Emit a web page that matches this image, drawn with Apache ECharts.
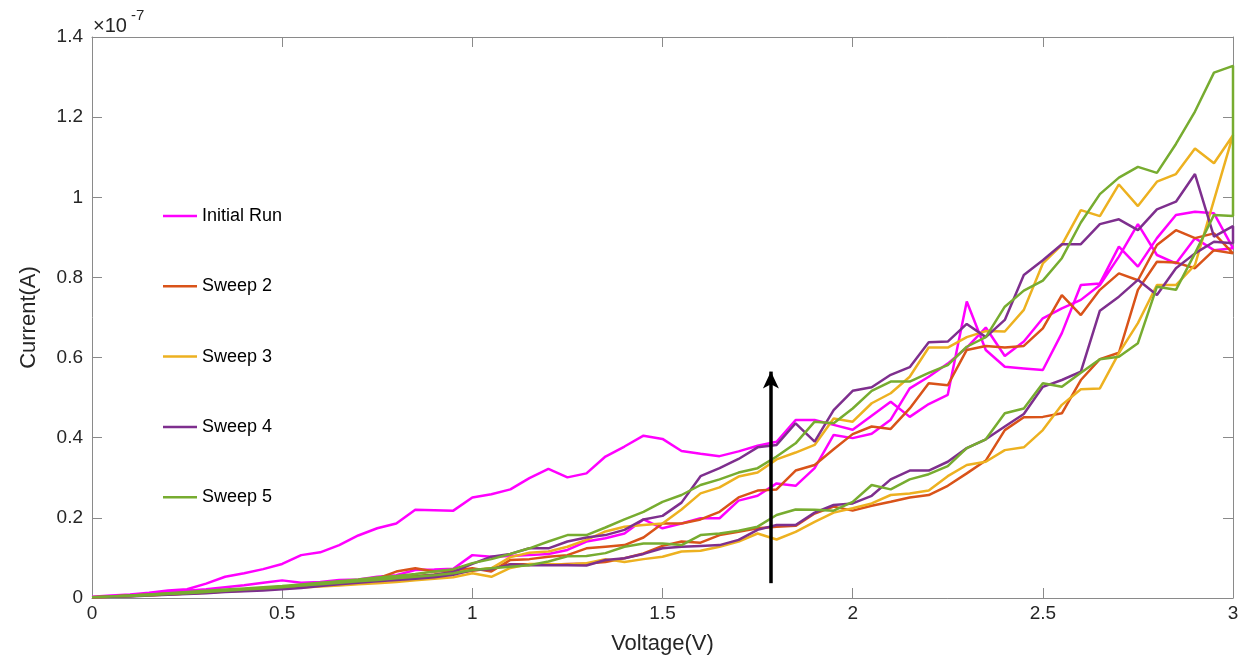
<!DOCTYPE html>
<html><head><meta charset="utf-8">
<script src="https://cdn.jsdelivr.net/npm/echarts@6/dist/echarts.min.js"></script>
<style>html,body{margin:0;padding:0;background:#fff}#c{width:1244px;height:661px}</style>
</head><body><div id="c"></div>
<script>
// Voltage steps (V)
const volts = [0,0.05,0.1,0.15,0.2,0.25,0.3,0.35,0.4,0.45,0.5,0.55,0.6,0.65,0.7,0.75,0.8,0.85,0.9,0.95,1,1.05,1.1,1.15,1.2,1.25,1.3,1.35,1.4,1.45,1.5,1.55,1.6,1.65,1.7,1.75,1.8,1.85,1.9,1.95,2,2.05,2.1,2.15,2.2,2.25,2.3,2.35,2.4,2.45,2.5,2.55,2.6,2.65,2.7,2.75,2.8,2.85,2.9,2.95,3];

// Currents in units of 1e-7 A; "High" = upper branch, "Low" = lower branch (both listed 0 -> 3 V)
const initialHigh = [0.003,0.006,0.009,0.013,0.019,0.022,0.036,0.053,0.062,0.072,
  0.085,0.107,0.114,0.132,0.156,0.174,0.186,0.220,0.219,0.218,
  0.251,0.259,0.271,0.299,0.322,0.301,0.311,0.353,0.378,0.405,
  0.397,0.367,0.360,0.354,0.366,0.380,0.390,0.444,0.444,0.432,
  0.420,0.455,0.490,0.452,0.484,0.507,0.740,0.619,0.577,0.573,
  0.569,0.661,0.781,0.785,0.877,0.827,0.898,0.956,0.964,0.960,
  0.873];
const initialLow = [0.003,0.005,0.008,0.011,0.014,0.018,0.022,0.027,0.032,0.038,
  0.044,0.038,0.040,0.045,0.046,0.053,0.057,0.070,0.071,0.073,
  0.107,0.103,0.105,0.107,0.110,0.120,0.141,0.149,0.161,0.196,
  0.174,0.186,0.199,0.199,0.243,0.255,0.286,0.280,0.324,0.407,
  0.399,0.410,0.445,0.523,0.552,0.585,0.625,0.675,0.604,0.640,
  0.698,0.723,0.744,0.781,0.852,0.933,0.856,0.835,0.898,0.868,
  0.876];
const sweep2High = [0.002,0.004,0.006,0.008,0.011,0.013,0.016,0.019,0.022,0.025,
  0.027,0.031,0.034,0.038,0.043,0.048,0.066,0.074,0.066,0.068,
  0.074,0.066,0.095,0.097,0.103,0.107,0.124,0.128,0.132,0.151,
  0.186,0.186,0.196,0.215,0.251,0.268,0.271,0.318,0.332,0.371,
  0.409,0.428,0.422,0.473,0.536,0.531,0.619,0.629,0.625,0.629,
  0.673,0.756,0.706,0.769,0.810,0.793,0.881,0.918,0.898,0.910,
  0.860];
const sweep2Low = [0.002,0.003,0.005,0.007,0.009,0.011,0.014,0.017,0.020,0.023,
  0.026,0.028,0.032,0.036,0.040,0.044,0.050,0.055,0.058,0.062,
  0.068,0.074,0.084,0.084,0.083,0.085,0.086,0.090,0.099,0.111,
  0.130,0.141,0.138,0.157,0.165,0.174,0.178,0.180,0.211,0.228,
  0.218,0.230,0.240,0.251,0.257,0.280,0.311,0.343,0.419,0.451,
  0.452,0.461,0.544,0.596,0.612,0.769,0.839,0.837,0.823,0.868,
  0.860];
const sweep3High = [0.002,0.004,0.006,0.008,0.010,0.012,0.015,0.018,0.021,0.024,
  0.027,0.030,0.034,0.037,0.041,0.045,0.049,0.052,0.058,0.063,
  0.070,0.074,0.102,0.113,0.116,0.128,0.145,0.166,0.178,0.182,
  0.186,0.221,0.261,0.276,0.303,0.313,0.346,0.363,0.382,0.448,
  0.440,0.486,0.511,0.552,0.625,0.625,0.651,0.666,0.665,0.719,
  0.835,0.881,0.968,0.953,1.032,0.978,1.039,1.058,1.122,1.085,
  1.155];
const sweep3Low = [0.002,0.003,0.005,0.007,0.009,0.011,0.013,0.016,0.018,0.021,
  0.024,0.026,0.029,0.031,0.034,0.037,0.040,0.044,0.048,0.052,
  0.062,0.053,0.075,0.085,0.085,0.083,0.087,0.097,0.090,0.097,
  0.103,0.116,0.118,0.128,0.141,0.161,0.146,0.165,0.190,0.213,
  0.224,0.236,0.257,0.261,0.268,0.304,0.332,0.340,0.369,0.376,
  0.419,0.482,0.521,0.523,0.611,0.686,0.781,0.781,0.831,0.993,
  1.155];
const sweep4High = [0.002,0.004,0.006,0.008,0.010,0.013,0.016,0.019,0.022,0.024,
  0.028,0.032,0.036,0.040,0.043,0.046,0.049,0.053,0.058,0.065,
  0.085,0.103,0.110,0.124,0.124,0.141,0.151,0.157,0.170,0.196,
  0.205,0.238,0.304,0.324,0.347,0.376,0.382,0.436,0.390,0.469,
  0.517,0.526,0.557,0.576,0.638,0.640,0.684,0.651,0.694,0.806,
  0.843,0.883,0.883,0.933,0.945,0.918,0.970,0.989,1.058,0.902,
  0.928];
const sweep4Low = [0.002,0.003,0.004,0.006,0.008,0.010,0.012,0.015,0.017,0.019,
  0.022,0.025,0.030,0.034,0.038,0.042,0.045,0.048,0.052,0.058,
  0.070,0.072,0.084,0.082,0.082,0.082,0.081,0.095,0.099,0.110,
  0.124,0.128,0.130,0.132,0.145,0.170,0.182,0.182,0.213,0.232,
  0.236,0.255,0.296,0.318,0.318,0.340,0.374,0.396,0.428,0.459,
  0.527,0.544,0.565,0.717,0.752,0.794,0.756,0.823,0.860,0.889,
  0.885];
const sweep5High = [0.002,0.004,0.006,0.009,0.012,0.015,0.018,0.021,0.024,0.027,
  0.030,0.034,0.038,0.042,0.046,0.051,0.055,0.060,0.066,0.072,
  0.087,0.097,0.110,0.124,0.141,0.157,0.157,0.176,0.196,0.215,
  0.240,0.257,0.282,0.296,0.313,0.324,0.353,0.386,0.440,0.436,
  0.473,0.517,0.540,0.540,0.562,0.581,0.627,0.651,0.727,0.767,
  0.792,0.848,0.937,1.008,1.049,1.076,1.061,1.133,1.214,1.311,
  1.328];
const sweep5Low = [0.002,0.004,0.005,0.007,0.010,0.012,0.015,0.018,0.021,0.024,
  0.027,0.031,0.034,0.038,0.042,0.045,0.049,0.053,0.057,0.062,
  0.070,0.074,0.078,0.082,0.091,0.104,0.105,0.112,0.128,0.136,
  0.136,0.132,0.157,0.161,0.168,0.178,0.207,0.221,0.220,0.218,
  0.240,0.282,0.271,0.296,0.309,0.329,0.374,0.396,0.461,0.473,
  0.536,0.527,0.562,0.596,0.602,0.636,0.777,0.769,0.860,0.956,
  0.953];

const seriesNames = ['Initial Run','Sweep 2','Sweep 3','Sweep 4','Sweep 5'];
const seriesColors = ['#FF00FF','#D95319','#EDB120','#7E2F8E','#77AC30'];
const arrowVoltage = 1.785;
const arrowCurrent = [0.037, 0.565];

const branches = [[initialHigh, initialLow],[sweep2High, sweep2Low],[sweep3High, sweep3Low],[sweep4High, sweep4Low],[sweep5High, sweep5Low]];

function loopData(hi, lo) {
  const d = [];
  for (let i = 0; i < volts.length; i++) d.push([volts[i], hi[i]]);
  for (let i = volts.length - 1; i >= 0; i--) d.push([volts[i], lo[i]]);
  return d;
}

const FONT = 'Liberation Sans, Arial, Helvetica, sans-serif';
const chart = echarts.init(document.getElementById('c'), null, {renderer: 'canvas'});

const series = seriesNames.map((name, k) => ({
  name: name,
  type: 'line',
  data: loopData(branches[k][0], branches[k][1]),
  showSymbol: false,
  symbol: 'none',
  lineStyle: {color: seriesColors[k], width: 2.5},
  itemStyle: {color: seriesColors[k]},
  xAxisIndex: 0, yAxisIndex: 0,
  animation: false
}));
series.push({
  name: 'arrow',
  type: 'line',
  data: [],
  xAxisIndex: 0, yAxisIndex: 0,
  markLine: {
    silent: true,
    symbol: ['none', 'arrow'],
    symbolSize: [12, 17],
    label: {show: false},
    lineStyle: {color: '#000', width: 3.5, type: 'solid'},
    data: [[{coord: [arrowVoltage, arrowCurrent[0]]}, {coord: [arrowVoltage, arrowCurrent[1]]}]]
  },
  animation: false
});

const axisLineStyle = {show: true, onZero: false, lineStyle: {color: '#8a8a8a', width: 1}};
const tickStyle = {show: true, inside: true, length: 10, lineStyle: {color: '#8a8a8a', width: 1}};

chart.setOption({
  animation: false,
  backgroundColor: '#fff',
  grid: {left: 92, right: 11, top: 37, bottom: 63, containLabel: false},
  legend: {
    data: seriesNames,
    orient: 'vertical',
    left: 163, top: 205, padding: 0,
    itemWidth: 34, itemHeight: 2.5, itemGap: 48.3, itemTextGap: 4,
    icon: 'rect',
    textStyle: {fontFamily: FONT, fontSize: 18, color: '#000', lineHeight: 22}
  },
  xAxis: [{
    type: 'value', min: 0, max: 3, interval: 0.5, position: 'bottom',
    axisLine: axisLineStyle, axisTick: tickStyle, splitLine: {show: false},
    axisLabel: {fontFamily: FONT, fontSize: 19, color: '#262626', margin: 6},
    name: 'Voltage(V)', nameLocation: 'middle', nameGap: 35,
    nameTextStyle: {fontFamily: FONT, fontSize: 22, color: '#262626'}
  }, {
    type: 'value', min: 0, max: 3, interval: 0.5, position: 'top',
    axisLine: axisLineStyle, axisTick: tickStyle, splitLine: {show: false},
    axisLabel: {show: false}
  }],
  yAxis: [{
    type: 'value', min: 0, max: 1.4, interval: 0.2, position: 'left',
    axisLine: axisLineStyle, axisTick: tickStyle, splitLine: {show: false},
    axisLabel: {fontFamily: FONT, fontSize: 19, color: '#262626', margin: 9,
      formatter: v => String(Math.round(v * 10) / 10)},
    name: 'Current(A)', nameLocation: 'middle', nameGap: 52,
    nameTextStyle: {fontFamily: FONT, fontSize: 22, color: '#262626'}
  }, {
    type: 'value', min: 0, max: 1.4, interval: 0.2, position: 'right',
    axisLine: axisLineStyle, axisTick: tickStyle, splitLine: {show: false},
    axisLabel: {show: false}
  }],
  graphic: [
    {type: 'text', left: 93, top: 16, style: {text: '×10', font: '20px ' + FONT, fill: '#262626'}},
    {type: 'text', left: 131, top: 8, style: {text: '-7', font: '15px ' + FONT, fill: '#262626'}}
  ],
  series: series
});
</script>
</body></html>
